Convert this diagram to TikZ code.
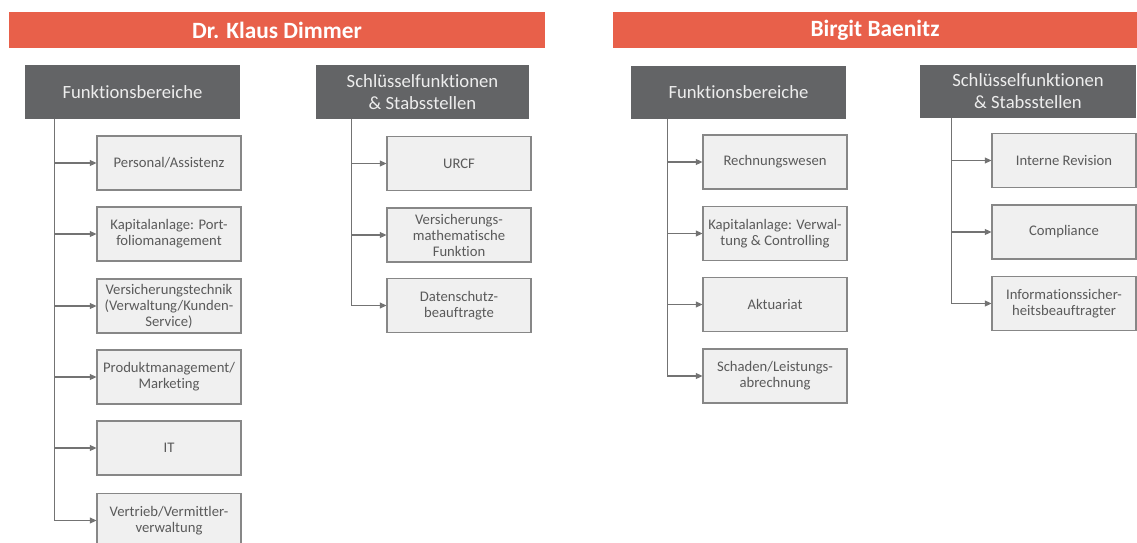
\documentclass[tikz,border=0pt]{standalone}
\usepackage{fontspec}
\setmainfont{Carlito}[Ligatures=CommonOff]
\usetikzlibrary{arrows.meta}

\definecolor{barred}{RGB}{232,96,74}
\definecolor{headgray}{RGB}{99,100,102}
\definecolor{itemfill}{RGB}{240,240,240}
\definecolor{itemline}{RGB}{135,135,135}
\definecolor{itemtext}{RGB}{90,90,90}
\definecolor{linegray}{RGB}{115,115,115}

\tikzset{
  titlebar/.style={fill=barred, text=white, font=\bfseries\fontsize{17.5}{19}\selectfont, minimum height=27pt, inner sep=0pt},
  headbox/.style={fill=headgray, text=white!93!black, align=center, font=\fontsize{14}{16.5}\selectfont, minimum width=161pt, minimum height=40pt, inner sep=0pt},
  itembox/.style={draw=itemline, line width=0.8pt, fill=itemfill, text=itemtext, align=center, font=\fontsize{11}{12}\selectfont, minimum width=108pt, minimum height=40.5pt, inner sep=0pt},
  conn/.style={draw=linegray, line width=0.85pt, -{Triangle[length=5pt,width=4.5pt]}}
}

\begin{document}
\begin{tikzpicture}[x=0.75pt,y=0.75pt,yscale=-1,xscale=1]
		\useasboundingbox (0,0) rectangle (1137,542);
		
		% Title Bars
		\node [titlebar, minimum width=402pt] (tl) at (277,30) {Dr. Klaus Dimmer};
		\node [titlebar, minimum width=393pt] (tr) at (875,30.5) {Birgit Baenitz};
		
		% Head Nodes
		\node [headbox] (fbl) at (132.5,92) {Funktionsbereiche};
		\node [headbox, minimum width=160pt] (sfl) at (422.5,92) {Schlüsselfunktionen\\\& Stabsstellen};
		\node [headbox] (fbr) at (738.5,92.5) {Funktionsbereiche};
		\node [headbox, minimum width=162pt] (sfr) at (1028,91.5) {Schlüsselfunktionen\\\& Stabsstellen};
		
		% Text Node: Funktionsbereiche links
		\node [itembox] (pa) at (169,163) {Personal/Assistenz};
		\node [itembox] (ka) at (169,234) {Kapitalanlage: Port-\\foliomanagement};
		\node [itembox] (vt) at (169,306) {Versicherungstechnik\\(Verwaltung/Kunden-\\Service)};
		\node [itembox] (pm) at (169,377) {Produktmanagement/\\Marketing};
		\node [itembox] (it) at (169,448) {IT};
		\node [itembox] (vv) at (169,520.5) {Vertrieb/Vermittler-\\verwaltung};
		
		% Text Node: Schluesselfunktionen links
		\node [itembox] (ur) at (459,163.5) {URCF};
		\node [itembox] (vm) at (459,235) {Versicherungs-\\mathematische\\Funktion};
		\node [itembox] (ds) at (459,305.5) {Datenschutz-\\beauftragte};
		
		% Text Node: Funktionsbereiche rechts
		\node [itembox] (rw) at (775,162) {Rechnungswesen};
		\node [itembox] (kv) at (775,233.5) {Kapitalanlage: Verwal-\\tung \& Controlling};
		\node [itembox] (ak) at (775,304.5) {Aktuariat};
		\node [itembox] (sl) at (775,376) {Schaden/Leistungs-\\abrechnung};
		
		% Text Node: Schluesselfunktionen rechts
		\node [itembox] (ir) at (1064,160.5) {Interne Revision};
		\node [itembox] (co) at (1064,232) {Compliance};
		\node [itembox] (is) at (1064,303.5) {Informationssicher-\\heitsbeauftragter};
		
		% Connection
		\foreach \n in {pa,ka,vt,pm,it,vv}
		  \draw [conn] (fbl.south west) ++(30,0) |- (\n.west);
		% Connection
		\foreach \n in {ur,vm,ds}
		  \draw [conn] (sfl.south west) ++(36,0) |- (\n.west);
		% Connection
		\foreach \n in {rw,kv,ak,sl}
		  \draw [conn] (fbr.south west) ++(37,0) |- (\n.west);
		% Connection
		\foreach \n in {ir,co,is}
		  \draw [conn] (sfr.south west) ++(32,0) |- (\n.west);
		
\end{tikzpicture}
\end{document}
